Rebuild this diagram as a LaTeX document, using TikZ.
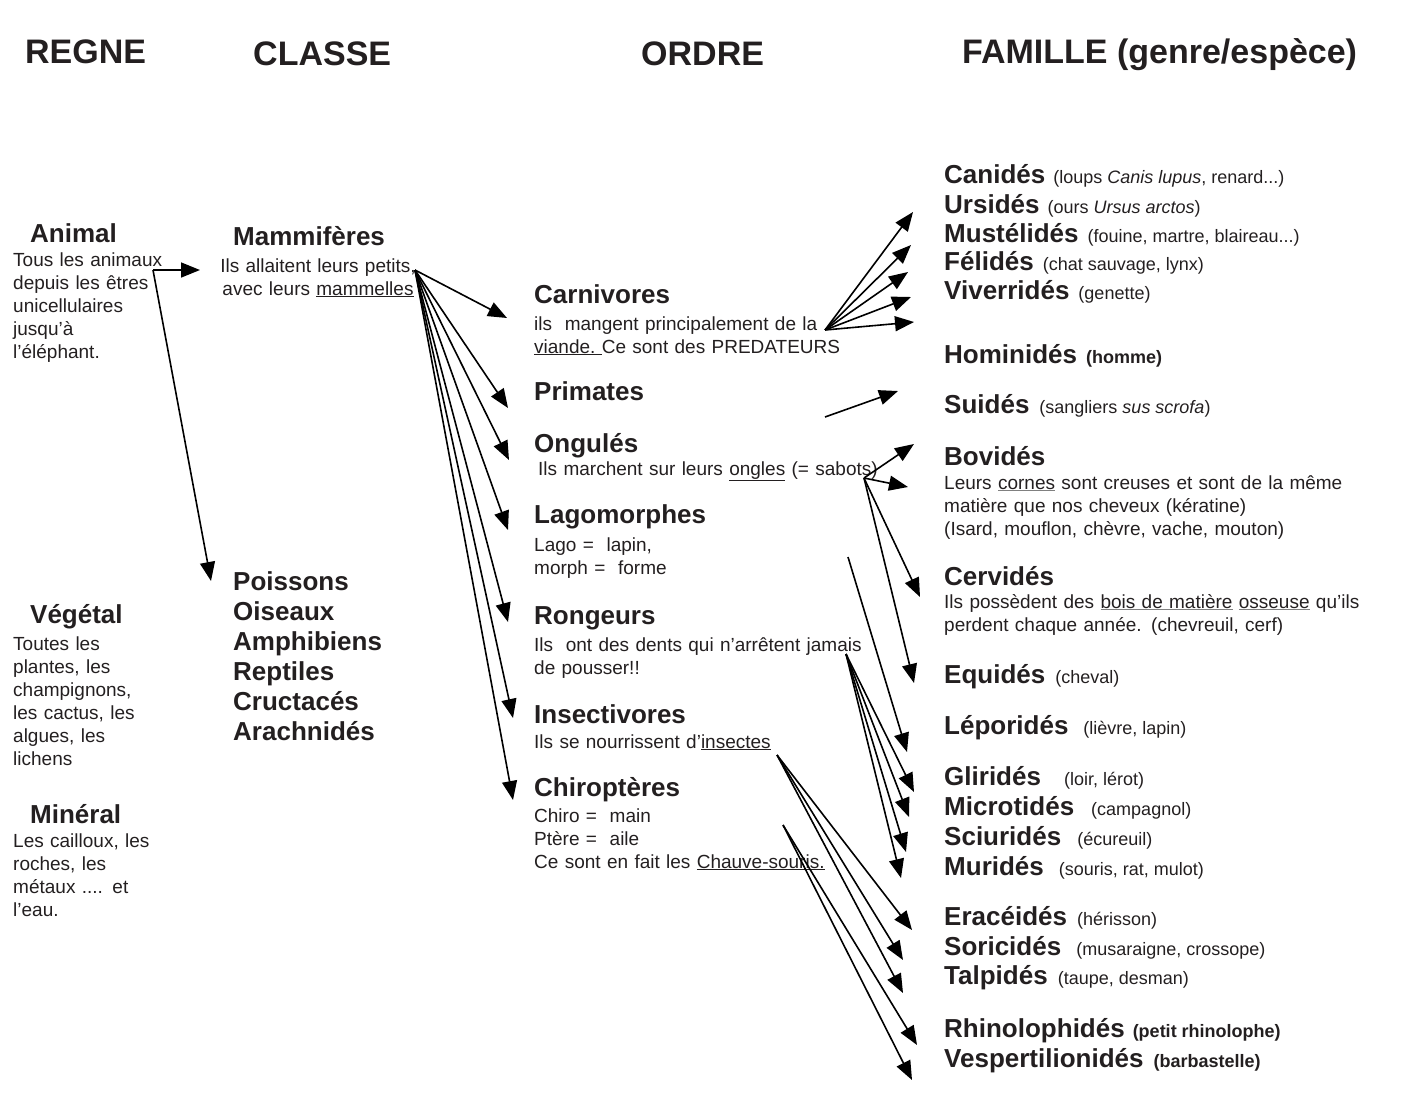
\documentclass[tikz,border=0pt]{standalone}
\usepackage{fontspec}
\setmainfont{Liberation Sans}
\usetikzlibrary{arrows.meta}
\definecolor{ink}{HTML}{231F20}
\newcommand{\gul}[1]{\textcolor{gray}{\underline{\textcolor{ink}{#1}}}}
\newcommand{\pr}[1]{{\fontsize{18}{22}\selectfont\mdseries #1}}
\newcommand{\prb}[1]{{\fontsize{18}{22}\selectfont\bfseries #1}}
\begin{document}
\begin{tikzpicture}[x=1pt,y=-1pt,
  every node/.style={inner sep=0pt, text=ink},
  hdr/.style={anchor=base west, font=\fontsize{34}{40}\selectfont\bfseries},
  ttl/.style={anchor=base west, font=\fontsize{26}{30}\selectfont\bfseries},
  ttlist/.style={anchor=base west, text width=300pt, align=left, font=\fontsize{26}{30}\selectfont\bfseries},
  txt/.style={anchor=base west, text width=#1, align=left, font=\fontsize{19}{23}\selectfont},
  arr/.style={draw=black, line width=1.6pt, -{Triangle[length=19pt,width=15pt]}}
]
\useasboundingbox (0,0) rectangle (1415,1101);

% headers
\node[hdr] (hRegne) at (25,63) {REGNE};
\node[hdr] (hClasse) at (253,65) {CLASSE};
\node[hdr] (hOrdre) at (641,65) {ORDRE};
\node[hdr] (hFam) at (962,63) {FAMILLE (genre/espèce)};

% regne
\node[ttl] (animal) at (30,242) {Animal};
\node[txt=200pt] (animalT) at (13,266) {Tous les animaux\\depuis les êtres\\unicellulaires\\jusqu’à\\l’éléphant.};
\node[ttl] (vegetal) at (30,623) {Végétal};
\node[txt=200pt] (vegetalT) at (13,650) {Toutes les\\plantes, les\\champignons,\\les cactus, les\\algues, les\\lichens};
\node[ttl] (mineral) at (30,823) {Minéral};
\node[txt=200pt] (mineralT) at (13,847) {Les cailloux, les\\roches, les\\métaux .... et\\l’eau.};

% classe
\node[ttl] (mammif) at (233,245) {Mammifères};
\node[anchor=base, text width=260pt, align=center, font=\fontsize{19}{23}\selectfont] (mammifT) at (318,272) {Ils allaitent leurs petits,\\avec leurs \underline{mammelles}};
\node[ttlist] (autres) at (233,590) {Poissons\\Oiseaux\\Amphibiens\\Reptiles\\Cructacés\\Arachnidés};

% ordre
\node[ttl] (carni) at (534,303) {Carnivores};
\node[txt=400pt] (carniT) at (534,330) {ils\ \ mangent principalement de la\\\underline{viande.\ }Ce sont des PREDATEURS};
\node[ttl] (prim) at (534,400) {Primates};
\node[ttl] (ongu) at (534,452) {Ongulés};
\node[txt=400pt] (onguT) at (534,475) {\hspace*{4pt}Ils marchent sur leurs \underline{ongles} (= sabots)};
\node[ttl] (lago) at (534,523) {Lagomorphes};
\node[txt=400pt] (lagoT) at (534,551) {Lago =\ \ lapin,\\morph =\ \ forme};
\node[ttl] (rong) at (534,624) {Rongeurs};
\node[txt=400pt] (rongT) at (534,651) {Ils\ \ ont des dents qui n’arrêtent jamais\\de pousser!!};
\node[ttl] (insec) at (534,723) {Insectivores};
\node[txt=400pt] (insecT) at (534,748) {Ils se nourrissent d’\underline{insectes}};
\node[ttl] (chiro) at (534,796) {Chiroptères};
\node[txt=400pt] (chiroT) at (534,822) {Chiro =\ \ main\\Ptère =\ \ aile\\Ce sont en fait les \underline{Chauve-souris.}};

% famille
\node[ttl] (canid) at (944,183) {Canidés\hspace{8pt}\pr{(loups \textit{Canis lupus}, renard...)}};
\node[ttl] (ursid) at (944,213) {Ursidés\hspace{8pt}\pr{(ours \textit{Ursus arctos})}};
\node[ttl] (mustel) at (944,242) {Mustélidés\hspace{9pt}\pr{(fouine, martre, blaireau...)}};
\node[ttl] (felid) at (944,270) {Félidés\hspace{9pt}\pr{(chat sauvage, lynx)}};
\node[ttl] (viver) at (944,299) {Viverridés\hspace{9pt}\pr{(genette)}};
\node[ttl] (homin) at (944,363) {Hominidés\hspace{9pt}\prb{(homme)}};
\node[ttl] (suid) at (944,413) {Suidés\hspace{10pt}\pr{(sangliers \textit{sus scrofa})}};
\node[ttl] (bovid) at (944,465) {Bovidés};
\node[txt=470pt] (bovidT) at (944,489) {Leurs \gul{cornes} sont creuses et sont de la même\\matière que nos cheveux (kératine)\\(Isard, mouflon, chèvre, vache, mouton)};
\node[ttl] (cervid) at (944,585) {Cervidés};
\node[txt=470pt] (cervidT) at (944,608) {Ils possèdent des \gul{bois de matière} \gul{osseuse} qu’ils\\perdent chaque année. (chevreuil, cerf)};
\node[ttl] (equid) at (944,683) {Equidés\hspace{10pt}\pr{(cheval)}};
\node[ttl] (lepor) at (944,734) {Léporidés\hspace{15pt}\pr{(lièvre, lapin)}};
\node[ttl] (glir) at (944,785) {Gliridés\hspace{23pt}\pr{(loir, lérot)}};
\node[ttl] (micro) at (944,815) {Microtidés\hspace{17pt}\pr{(campagnol)}};
\node[ttl] (sciur) at (944,845) {Sciuridés\hspace{16pt}\pr{(écureuil)}};
\node[ttl] (murid) at (944,875) {Muridés\hspace{15pt}\pr{(souris, rat, mulot)}};
\node[ttl] (erac) at (944,925) {Eracéidés\hspace{10pt}\pr{(hérisson)}};
\node[ttl] (soric) at (944,955) {Soricidés\hspace{15pt}\pr{(musaraigne, crossope)}};
\node[ttl] (talp) at (944,984) {Talpidés\hspace{10pt}\pr{(taupe, desman)}};
\node[ttl] (rhino) at (944,1037) {Rhinolophidés\hspace{8pt}\prb{(petit rhinolophe)}};
\node[ttl] (vesp) at (944,1067) {Vespertilionidés\hspace{10pt}\prb{(barbastelle)}};

% connector points
\coordinate (anO) at (153,270);
\coordinate (anT1) at (200,270);
\coordinate (anT2) at (211,581);
\coordinate (maO) at (415,270);
\foreach \p [count=\i] in {{507,318},{508,408},{509,460},{508,530},{508,622},{513,718},{513,800}}
  \coordinate (maT\i) at (\p);
\coordinate (caO) at (825,330);
\foreach \p [count=\i] in {{913,212},{911,245},{908,272},{911,297},{914,322}}
  \coordinate (caT\i) at (\p);
\coordinate (prO) at (825,417);
\coordinate (prT) at (898,391);
\coordinate (onO) at (864,478);
\foreach \p [count=\i] in {{914,444},{908,487},{920,597},{914,683}}
  \coordinate (onT\i) at (\p);
\coordinate (laO) at (848,557);
\coordinate (laT) at (907,752);
\coordinate (roO) at (846,654);
\foreach \p [count=\i] in {{914,792},{909,817},{906,852},{901,878}}
  \coordinate (roT\i) at (\p);
\coordinate (inO) at (777,755);
\foreach \p [count=\i] in {{912,930},{903,960},{903,993}}
  \coordinate (inT\i) at (\p);
\coordinate (chO) at (783,825);
\coordinate (chT1) at (917,1045);
\coordinate (chT2) at (912,1080);

% connectors
\draw[arr] (anO) -- (anT1);
\draw[arr] (anO) -- (anT2);
\foreach \i in {1,...,7} \draw[arr] (maO) -- (maT\i);
\foreach \i in {1,...,5} \draw[arr] (caO) -- (caT\i);
\draw[arr] (prO) -- (prT);
\foreach \i in {1,...,4} \draw[arr] (onO) -- (onT\i);
\draw[arr] (laO) -- (laT);
\foreach \i in {1,...,4} \draw[arr] (roO) -- (roT\i);
\foreach \i in {1,...,3} \draw[arr] (inO) -- (inT\i);
\draw[arr] (chO) -- (chT1);
\draw[arr] (chO) -- (chT2);
\end{tikzpicture}
\end{document}
